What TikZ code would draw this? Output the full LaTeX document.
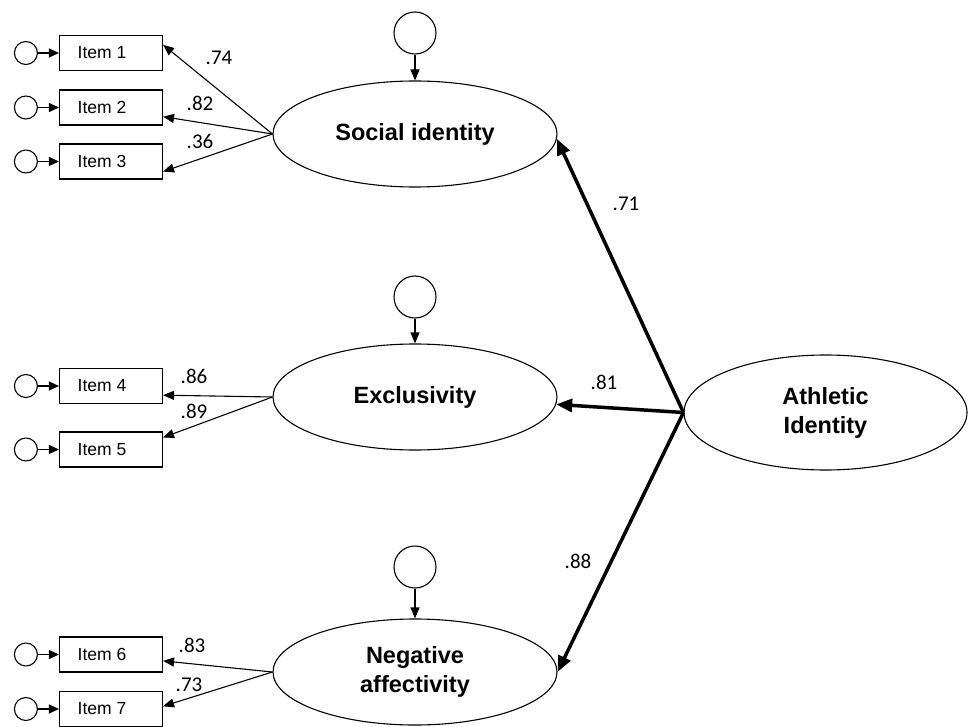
\documentclass[tikz,border=0pt]{standalone}
\usepackage{fontspec}
\setmainfont{Liberation Sans}
\newfontfamily\numfont{Carlito}
\usetikzlibrary{shapes,arrows.meta,positioning}

\tikzset{
  latent/.style={ellipse,draw,line width=1.1pt,minimum width=284pt,minimum height=106pt,
    inner sep=0pt,align=center,font=\fontsize{23.5}{29}\selectfont\bfseries},
  item/.style={rectangle,draw,line width=1.1pt,minimum width=103pt,minimum height=35pt,
    inner sep=0pt,font=\fontsize{17.5}{20}\selectfont,execute at end node={\hspace{18pt}}},
  err/.style={circle,draw,line width=1.1pt,minimum size=23pt,inner sep=0pt},
  disturb/.style={circle,draw,line width=1.1pt,minimum size=42pt,inner sep=0pt},
  load/.style={line width=1.1pt,-{Triangle[length=11pt,width=9pt]}},
  struct/.style={line width=3.5pt,-{Triangle[length=16pt,width=13pt]}},
  coef/.style={font=\numfont\fontsize{21}{24}\selectfont,inner sep=0pt}
}

\begin{document}
\begin{tikzpicture}[x=1pt,y=-1pt]
\useasboundingbox (0,0) rectangle (968,727);
%latent factors
\node[latent] (soc) at (415,134) {Social identity};
\node[latent] (excl) at (415,397) {Exclusivity};
\node[latent] (neg) at (415,672) {Negative\\affectivity};
\node[latent,minimum width=283pt,minimum height=115pt] (ath) at (825.5,412.5) {Athletic\\Identity};
%disturbances
\node[disturb] (zsoc) at (415,33) {};
\node[disturb] (zexcl) at (415,297) {};
\node[disturb] (zneg) at (415,567) {};
\draw[load] (zsoc) -- (soc);
\draw[load] (zexcl) -- (excl);
\draw[load] (zneg) -- (neg);
%indicators
\node[item] (i1) at (111,53) {Item 1};
\node[item] (i2) at (111,107.5) {Item 2};
\node[item] (i3) at (111,161.5) {Item 3};
\node[item] (i4) at (111,386) {Item 4};
\node[item] (i5) at (111,449.5) {Item 5};
\node[item] (i6) at (111,654.5) {Item 6};
\node[item] (i7) at (111,709) {Item 7};
\foreach \i in {1,...,7}{
  \node[err,left=21pt of i\i] (e\i) {};
  \draw[load,-{Triangle[length=10pt,width=9pt]}] (e\i) -- (i\i);
}
%loadings
\draw[load] (soc.west) -- (i1.9);
\draw[load] (soc.west) -- (i2.-10);
\draw[load] (soc.west) -- (i3.-11);
\draw[load] (excl.west) -- (i4.-10);
\draw[load] (excl.west) -- (i5.13);
\draw[load] (neg.west) -- (i6.-7);
\draw[load] (neg.west) -- (i7.3);
\node[coef] (l1) at (219,58) {.74};
\node[coef] (l2) at (200,103) {.82};
\node[coef] (l3) at (200,141) {.36};
\node[coef] (l4) at (194,376) {.86};
\node[coef] (l5) at (194,411) {.89};
\node[coef] (l6) at (192,645) {.83};
\node[coef] (l7) at (189,685) {.73};
%second order paths
\draw[struct] (ath.west) -- (soc.-2);
\draw[struct] (ath.west) -- (excl.-3);
\draw[struct] (ath.west) -- (neg.east);
\node[coef] (g1) at (626,204) {.71};
\node[coef] (g2) at (604,382) {.81};
\node[coef] (g3) at (578,561) {.88};
\end{tikzpicture}
\end{document}
